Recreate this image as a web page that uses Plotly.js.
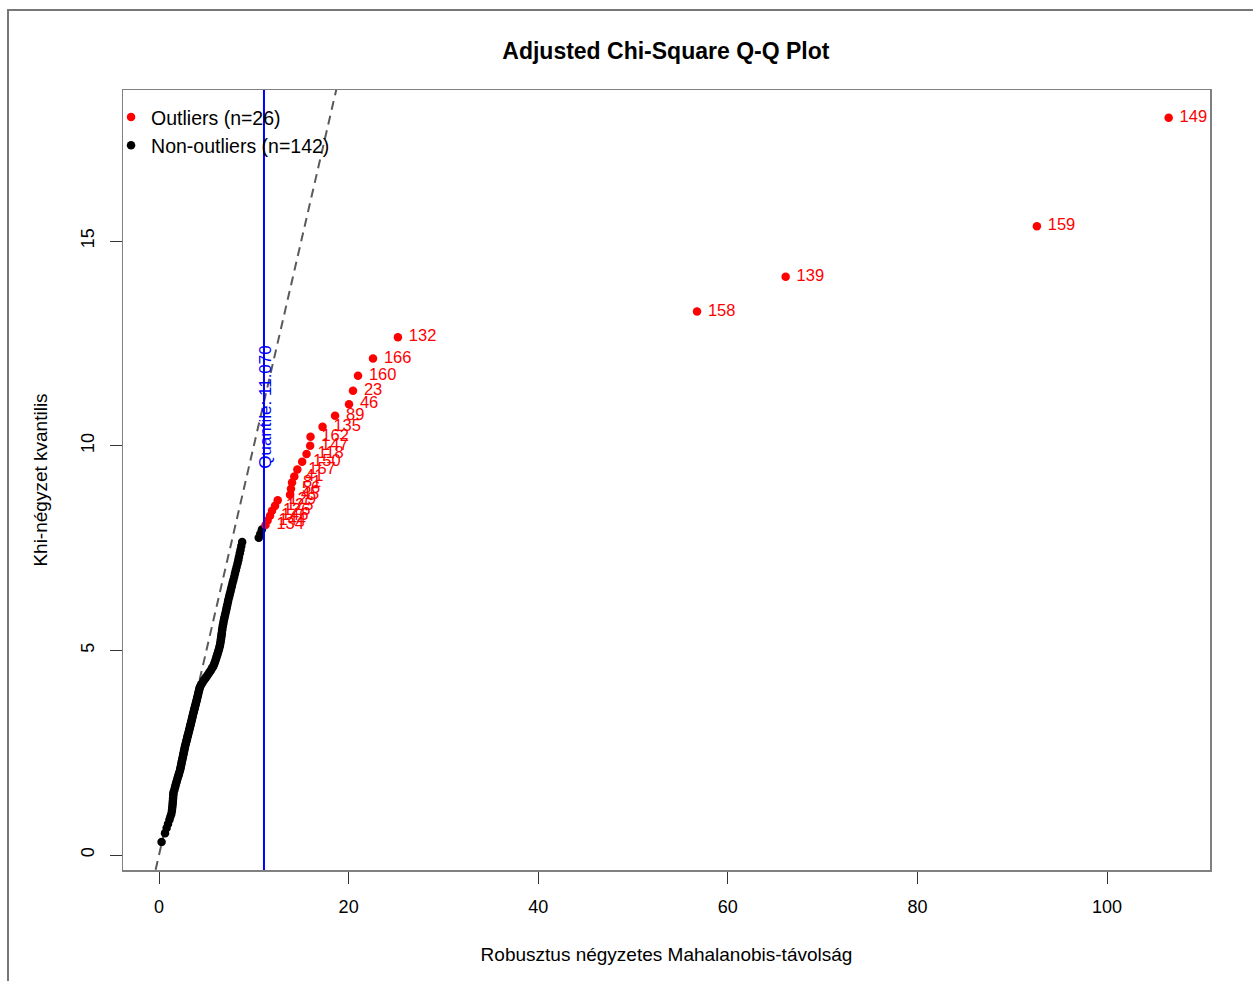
<!DOCTYPE html>
<html>
<head>
<meta charset="utf-8">
<script src="https://cdn.plot.ly/plotly-3.0.1.min.js"></script>
<style>
html,body{margin:0;padding:0;background:#fff;}
#wrap{position:relative;width:1253px;height:981px;overflow:hidden;}
#chart{position:absolute;left:0;top:0;width:1253px;height:981px;}
#frame{position:absolute;left:7px;top:9px;width:1400px;height:1200px;border-top:2px solid #777;border-left:2px solid #777;pointer-events:none;}
</style>
</head>
<body>
<div id="wrap"><div id="chart"></div><div id="frame"></div></div>
<script>
// ---- Data ----
const nonOutlierX = [0.27,0.63,0.80,0.95,1.10,1.20,1.30,1.36,1.39,1.42,
1.44,1.46,1.48,1.50,1.51,1.54,1.62,1.68,1.73,1.79,
1.85,1.90,1.96,2.03,2.08,2.13,2.20,2.24,2.28,2.32,
2.36,2.40,2.43,2.47,2.51,2.54,2.58,2.61,2.65,2.69,
2.72,2.76,2.81,2.85,2.90,2.94,2.98,3.02,3.06,3.10,
3.15,3.19,3.23,3.28,3.32,3.35,3.40,3.44,3.48,3.52,
3.56,3.60,3.65,3.69,3.73,3.77,3.81,3.86,3.90,3.95,
3.99,4.03,4.07,4.12,4.16,4.21,4.25,4.30,4.37,4.46,
4.57,4.70,4.83,4.96,5.08,5.22,5.34,5.46,5.58,5.70,
5.79,5.86,5.93,6.00,6.06,6.13,6.19,6.25,6.31,6.37,
6.42,6.46,6.50,6.53,6.56,6.59,6.62,6.65,6.68,6.72,
6.76,6.81,6.86,6.91,6.97,7.03,7.09,7.14,7.20,7.27,
7.32,7.40,7.46,7.54,7.61,7.69,7.76,7.84,7.93,8.01,
8.10,8.19,8.28,8.36,8.43,8.52,8.60,8.68,8.77,10.52,
10.68,10.85];
const nonOutlierY = [0.32,0.53,0.66,0.76,0.86,0.94,1.01,1.08,1.15,1.21,
1.27,1.32,1.38,1.44,1.49,1.54,1.59,1.65,1.69,1.74,
1.79,1.83,1.88,1.93,1.97,2.01,2.06,2.10,2.14,2.19,
2.23,2.27,2.31,2.35,2.39,2.43,2.47,2.51,2.55,2.59,
2.63,2.67,2.71,2.75,2.79,2.83,2.87,2.91,2.94,2.98,
3.02,3.06,3.10,3.14,3.18,3.21,3.25,3.29,3.33,3.37,
3.41,3.45,3.49,3.53,3.57,3.60,3.64,3.68,3.72,3.76,
3.80,3.84,3.88,3.92,3.97,4.01,4.05,4.09,4.13,4.17,
4.21,4.26,4.30,4.34,4.38,4.43,4.47,4.51,4.56,4.60,
4.65,4.69,4.74,4.79,4.83,4.88,4.93,4.97,5.02,5.07,
5.12,5.17,5.22,5.27,5.32,5.37,5.42,5.48,5.53,5.59,
5.64,5.70,5.76,5.81,5.87,5.93,5.99,6.05,6.11,6.18,
6.24,6.31,6.37,6.44,6.51,6.58,6.65,6.72,6.80,6.88,
6.96,7.04,7.12,7.20,7.28,7.37,7.46,7.55,7.65,7.75,
7.85,7.95];

const outlierIds = ["134","144","146","126","125","129","45","56","81","41",
"157","150","118","147","162","135","89","46","23","160",
"166","132","158","139","159","149"];
const outlierX = [11.23,11.45,11.71,11.92,12.24,12.52,13.82,13.92,14.03,14.27,
14.59,15.10,15.56,15.94,15.98,17.25,18.57,20.04,20.46,20.99,
22.57,25.20,56.75,66.10,92.60,106.50];
const outlierY = [8.06,8.17,8.29,8.41,8.53,8.67,8.80,8.95,9.10,9.25,
9.42,9.61,9.80,10.00,10.22,10.46,10.73,11.01,11.34,11.71,
12.13,12.65,13.28,14.13,15.36,18.01];

const quantileCutoff = 11.070;
const refLineX = [-5, 25];   // y = x reference line
const refLineY = [-5, 25];

const xTicks = [0, 20, 40, 60, 80, 100];
const yTicks = [0, 5, 10, 15];

const nOut = outlierX.length;
const nNon = nonOutlierX.length;

const font = "Liberation Sans, Arial, sans-serif";

const traces = [
  {
    x: refLineX, y: refLineY, mode: "lines", type: "scatter",
    line: {color: "#5a5a5a", width: 2, dash: "9px,6px"},
    showlegend: false, hoverinfo: "skip"
  },
  {
    x: nonOutlierX, y: nonOutlierY, mode: "markers", type: "scatter",
    name: "Non-outliers (n=" + nNon + ")",
    marker: {color: "#000000", size: 8.5}
  },
  {
    x: outlierX, y: outlierY, mode: "markers+text", type: "scatter",
    name: "Outliers (n=" + nOut + ")",
    text: outlierIds.map(s => " " + s),
    textposition: "middle right",
    textfont: {family: font, size: 16.5, color: "#FF0000"},
    cliponaxis: false,
    marker: {color: "#FF0000", size: 8.5}
  }
];

const layout = {
  width: 1253, height: 981,
  margin: {l: 123, r: 43, t: 90, b: 111, pad: 0},
  paper_bgcolor: "#ffffff", plot_bgcolor: "#ffffff",
  font: {family: font, size: 17, color: "#000"},
  title: {
    text: "<b>Adjusted Chi-Square Q-Q Plot</b>",
    font: {family: font, size: 23, color: "#000"},
    x: 0.5314, xanchor: "center", y: 0.948, yanchor: "middle"
  },
  showlegend: true,
  legend: {
    x: -0.011, y: 0.99, xanchor: "left", yanchor: "top",
    bgcolor: "rgba(0,0,0,0)", borderwidth: 0,
    traceorder: "reversed",
    font: {family: font, size: 19.5, color: "#000"}
  },
  xaxis: {
    range: [-3.8, 110.86], tickvals: xTicks, ticktext: xTicks.map(String),
    ticks: "outside", ticklen: 12, tickcolor: "#333", tickwidth: 1,
    ticklabelstandoff: 8,
    showline: true, mirror: true, linecolor: "#808080", linewidth: 1.5,
    showgrid: false, zeroline: false,
    tickfont: {family: font, size: 18, color: "#000"},
    title: {text: "Robusztus négyzetes Mahalanobis-távolság", font: {family: font, size: 19}, standoff: 31}
  },
  yaxis: {
    range: [-0.366, 18.69], tickvals: yTicks, ticktext: yTicks.map(String),
    ticks: "outside", ticklen: 12, tickcolor: "#333", tickwidth: 1, tickangle: -90,
    ticklabelstandoff: 8,
    showline: true, mirror: true, linecolor: "#808080", linewidth: 1.5,
    showgrid: false, zeroline: false,
    tickfont: {family: font, size: 18, color: "#000"},
    title: {text: "Khi-négyzet kvantilis", font: {family: font, size: 19}, standoff: 25}
  },
  shapes: [
    {type: "line", xref: "x", yref: "paper", x0: quantileCutoff, x1: quantileCutoff, y0: 0, y1: 1,
     line: {color: "#0000FF", width: 2}}
  ],
  annotations: [
    {x: quantileCutoff, y: 10.95, xref: "x", yref: "y", text: "Quantile: " + quantileCutoff.toFixed(3),
     textangle: -90, showarrow: false, xshift: 2,
     font: {family: font, size: 17, color: "#0000FF"}}
  ]
};

Plotly.newPlot("chart", traces, layout, {displayModeBar: false, staticPlot: true});
</script>
</body>
</html>
